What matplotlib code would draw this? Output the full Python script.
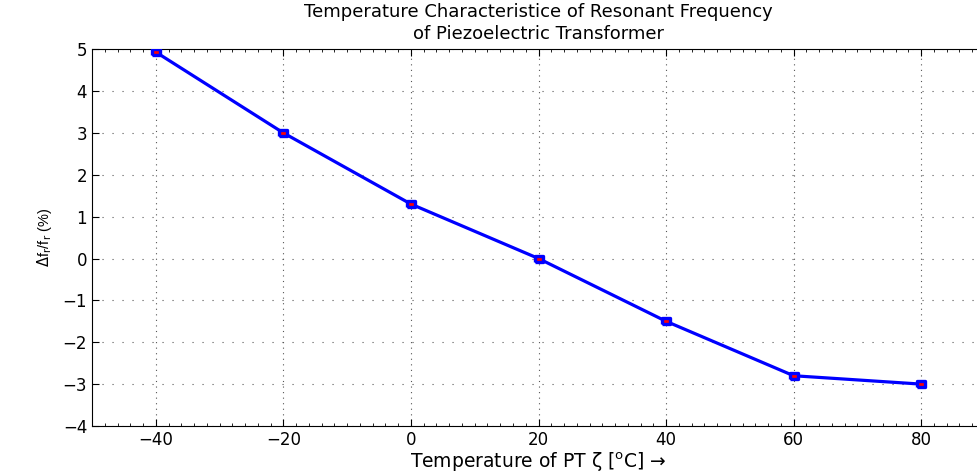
import numpy as np
import matplotlib.pyplot as plt
from matplotlib.ticker import MultipleLocator

plt.rcParams['font.family'] = ['DejaVu Sans']
plt.rcParams['mathtext.fontset'] = 'dejavusans'

# temperature (deg C) and relative resonant frequency shift (%)
temperatura = [-40, -20, 0, 20, 40, 60, 80]
taajuus = [4.93, 3.0, 1.3, 0.0, -1.5, -2.8, -3.0]

x_ticks = [-40, -20, 0, 20, 40, 60, 80]
y_ticks = [-4, -3, -2, -1, 0, 1, 2, 3, 4, 5]

fig = plt.figure(figsize=(9.77, 4.74), dpi=100)
ax = fig.add_axes([0.0942, 0.1013, 0.914, 0.795])

# wide square marker (the original picture is stretched sideways)
laatikko = [(-1.5, -1), (1.5, -1), (1.5, 1), (-1.5, 1), (-1.5, -1)]
ax.plot(temperatura, taajuus, color='#0000ff', linewidth=2.3, marker=laatikko,
        markersize=5.8, markerfacecolor='red', markeredgecolor='#0000ff',
        markeredgewidth=2.4, zorder=3)

ax.set_xlim(-50, 90)
ax.set_ylim(-4, 5)
ax.set_xticks(x_ticks)
ax.set_yticks(y_ticks)
ax.xaxis.set_minor_locator(MultipleLocator(2))
ax.tick_params(which='both', direction='in', top=True, right=True, labelsize=12)
ax.tick_params(which='major', length=5)
ax.tick_params(which='minor', length=2.5)

ax.xaxis.grid(True, which='major', linestyle=(0, (1, 4)), color='#555555', linewidth=0.8)
ax.yaxis.grid(True, which='major', linestyle=(0, (1, 8)), color='#555555', linewidth=0.8)

ax.set_title("Temperature Characteristice of Resonant Frequency\nof Piezoelectric Transformer",
             fontsize=13, pad=7, linespacing=1.3)
ax.set_xlabel('Temperature of PT ζ [$^{\\mathrm{o}}$C] →', fontsize=13.5, labelpad=1)
ax.set_ylabel(r'$\Delta$f$_{\mathrm{r}}$/f$_{\mathrm{r}}$ (%)', fontsize=10.5, labelpad=6,
              family=['Liberation Sans', 'DejaVu Sans'])

plt.savefig("out.png", dpi=100)
